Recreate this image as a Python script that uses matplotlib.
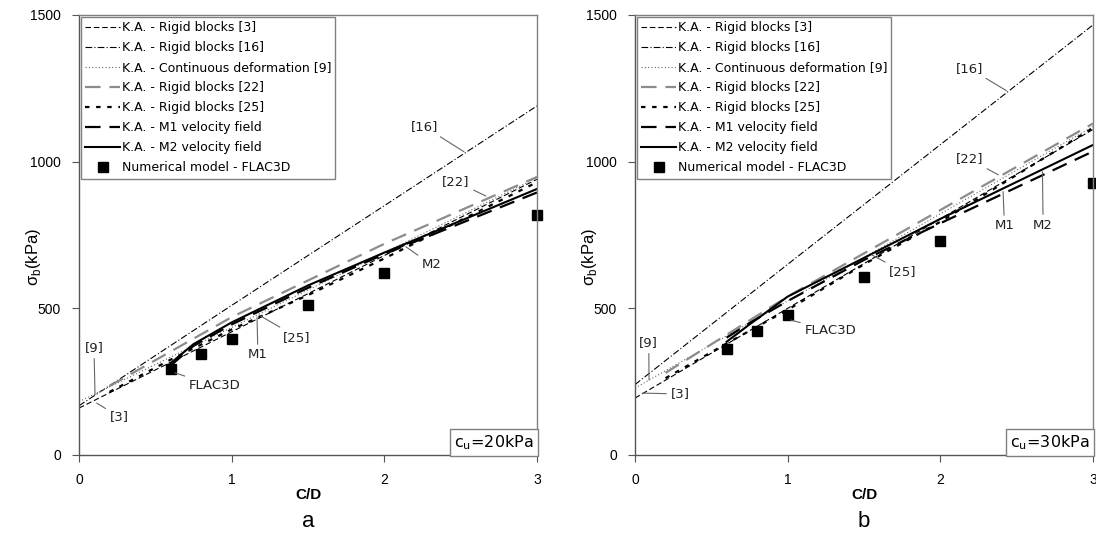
import matplotlib
matplotlib.use("Agg")
import matplotlib.pyplot as plt

# --- data (kPa) ---
x_lin = [0, 1, 2, 3]
x_22 = [0.2, 1, 2, 3]
x_25 = [0.2, 0.6, 1, 1.5, 2, 3]
x_m = [0.6, 0.75, 1, 1.5, 2, 3]
x_fl = [0.6, 0.8, 1, 1.5, 2, 3]

# cu = 20 kPa
ka3_20 = [160, 420, 680, 940]
ka16_20 = [168, 510, 850, 1190]
ka9_20 = [182, 435, 690, 945]
ka22_20 = [235, 470, 720, 948]
ka25_20 = [215, 325, 428, 545, 670, 930]
m1_20 = [305, 372, 445, 570, 685, 895]
m2_20 = [313, 378, 452, 578, 690, 907]
flac_20 = [293, 344, 395, 511, 620, 818]

# cu = 30 kPa
ka3_30 = [194, 500, 805, 1110]
ka16_30 = [240, 650, 1058, 1466]
ka9_30 = [228, 525, 822, 1120]
ka22_30 = [280, 540, 835, 1130]
ka25_30 = [262, 380, 495, 650, 795, 1115]
m1_30 = [400, 450, 525, 665, 790, 1035]
m2_30 = [386, 445, 540, 672, 805, 1057]
flac_30 = [360, 423, 477, 608, 730, 928]

labels = ["K.A. - Rigid blocks [3]", "K.A. - Rigid blocks [16]",
          "K.A. - Continuous deformation [9]", "K.A. - Rigid blocks [22]",
          "K.A. - Rigid blocks [25]", "K.A. - M1 velocity field",
          "K.A. - M2 velocity field", "Numerical model - FLAC3D"]

# annotation texts: (text, text pos, leader end)
notes_20 = [("[16]", (2.263, 1119), (2.521, 1034)),
            ("[22]", (2.469, 932), (2.665, 883)),
            ("M2", (2.31, 648), (2.141, 710)),
            ("[25]", (1.428, 402), (1.179, 477)),
            ("M1", (1.172, 341), (1.166, 470)),
            ("FLAC3D", (0.887, 236), (0.629, 280)),
            ("[9]", (0.098, 365), (0.105, 205)),
            ("[3]", (0.262, 130), (0.116, 177))]
notes_30 = [("[16]", (2.19, 1318), (2.433, 1242)),
            ("[22]", (2.19, 1009), (2.38, 955)),
            ("M1", (2.42, 781), (2.411, 898)),
            ("M2", (2.673, 784), (2.669, 966)),
            ("[25]", (1.755, 625), (1.552, 682)),
            ("FLAC3D", (1.279, 424), (1.021, 460)),
            ("[9]", (0.09, 382), (0.092, 256)),
            ("[3]", (0.295, 208), (0.052, 211))]

plt.rcParams['font.family'] = ['Liberation Sans', 'DejaVu Sans']
grey = '#808080'

fig = plt.figure(figsize=(10.96, 5.4), dpi=100)
ax1 = fig.add_axes([79/1096, 85/540, 458/1096, 440/540])
ax2 = fig.add_axes([635/1096, 85/540, 458/1096, 440/540])


def draw(ax, d, notes, cu, letter):
    ka3, ka16, ka9, ka22, ka25, m1, m2, flac = d
    ax.plot(x_lin, ka3, color='black', lw=0.8, dashes=(5, 2.5))
    ax.plot(x_lin, ka16, color='black', lw=0.8, dashes=(6, 2, 1, 2))
    ax.plot(x_lin, ka9, color='#666666', lw=0.8, dashes=(1, 2))
    ax.plot(x_22, ka22, color='#8c8c8c', lw=1.6, dashes=(7, 4))
    ax.plot(x_25, ka25, color='black', lw=1.6, dashes=(2, 3))
    ax.plot(x_m, m1, color='black', lw=1.6, dashes=(7, 4))
    ax.plot(x_m, m2, color='black', lw=1.5)
    ax.plot(x_fl, flac, 's', color='black', ms=7, ls='none', clip_on=False)

    ax.set_xlim(0, 3)
    ax.set_ylim(0, 1500)
    ax.set_xticks([0, 1, 2, 3])
    ax.set_yticks([0, 500, 1000, 1500])
    for s in ax.spines.values():
        s.set_color(grey)
        s.set_linewidth(1.0)
    ax.spines['left'].set_color('#555555')
    ax.spines['bottom'].set_color('#555555')
    ax.tick_params(direction='out', length=5, width=0.8, color='#555555',
                   labelsize=10, pad=8)

    ax.set_xlabel('C/D', fontweight='bold', fontsize=11, labelpad=1)
    ax.set_ylabel('\u03c3$_\\mathregular{b}$(kPa)', fontsize=12)
    ax.yaxis.set_label_coords(-0.078, 0.45)

    leg = ax.legend(labels, loc='upper left', borderaxespad=0.15,
                    prop={'family': 'DejaVu Sans', 'size': 9.0},
                    handlelength=2.8, handletextpad=0.1, labelspacing=0.56,
                    borderpad=0.35, fancybox=False, framealpha=1)
    leg.get_frame().set_edgecolor(grey)
    leg.get_frame().set_linewidth(1.0)

    for txt, tpos, lpos in notes:
        ax.annotate(txt, xy=lpos, xytext=tpos, ha='center', va='center',
                    fontsize=9.5, family='DejaVu Sans', color='#222222',
                    arrowprops=dict(arrowstyle='-', color='#666666', lw=0.8,
                                    shrinkA=1, shrinkB=0))

    ax.text(0.993, 0.007, r'c$_\mathregular{u}$=' + cu, transform=ax.transAxes,
            ha='right', va='bottom', fontsize=11.5, family='DejaVu Sans',
            bbox=dict(boxstyle='square,pad=0.25', fc='white', ec=grey, lw=1.0))
    ax.text(0.5, -0.152, letter, transform=ax.transAxes, ha='center',
            va='center', fontsize=16)


draw(ax1, (ka3_20, ka16_20, ka9_20, ka22_20, ka25_20, m1_20, m2_20, flac_20),
     notes_20, '20kPa', 'a')
draw(ax2, (ka3_30, ka16_30, ka9_30, ka22_30, ka25_30, m1_30, m2_30, flac_30),
     notes_30, '30kPa', 'b')

fig.savefig('out.png', dpi=100)
